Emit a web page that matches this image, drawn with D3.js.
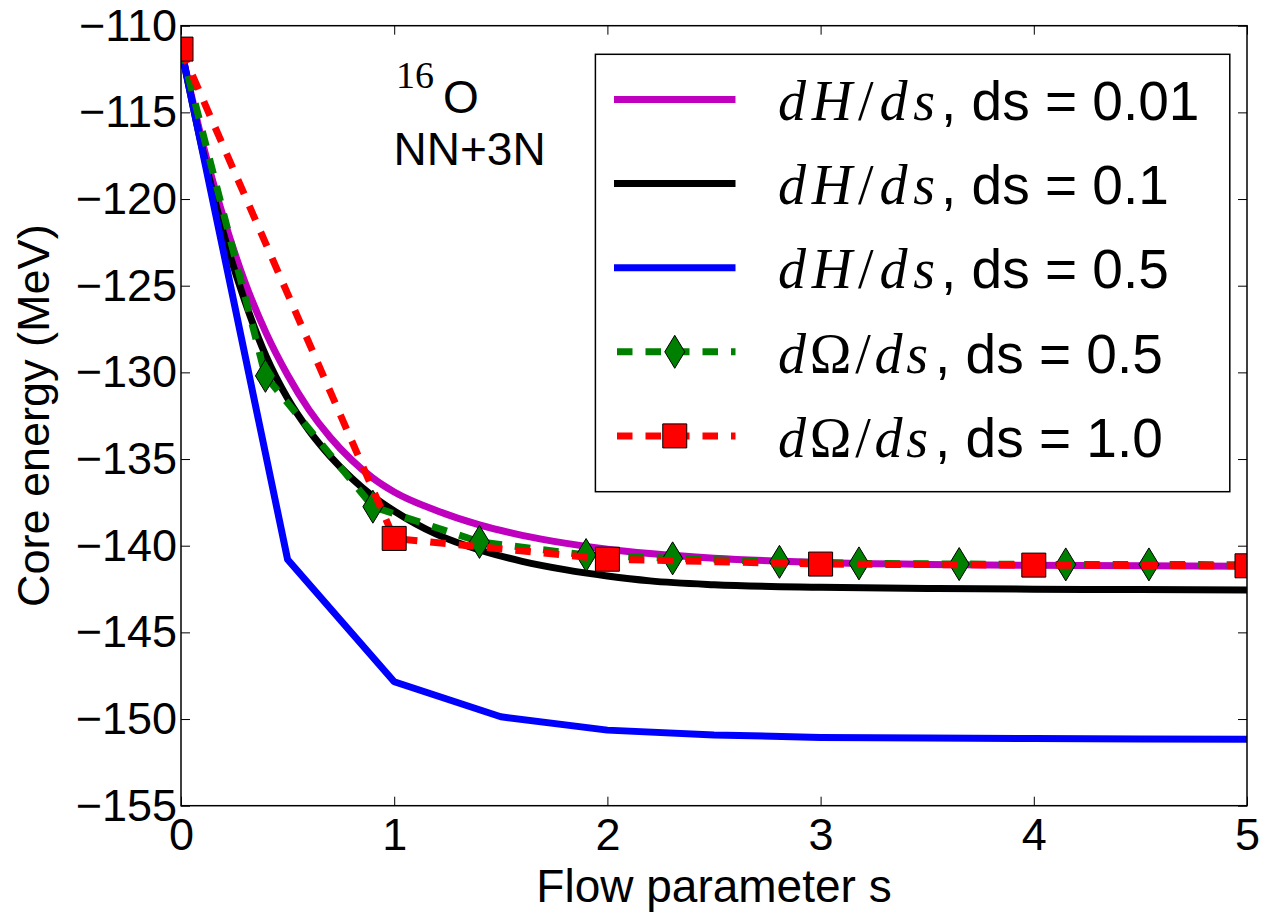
<!DOCTYPE html>
<html>
<head>
<meta charset="utf-8">
<script src="https://cdn.jsdelivr.net/npm/d3@7"></script>
<style>
  body { margin: 0; background: #fff; }
</style>
</head>
<body>
<svg id="chart" width="1262" height="912"></svg>
<script>
// Core energy of 16O (NN+3N) along the IMSRG flow parameter s.

// dH/ds, ds = 0.01 and ds = 0.1 (dense integrations, sampled)
const hS = [0, 0.1, 0.2, 0.3, 0.4, 0.5, 0.6, 0.7, 0.8, 0.9, 1.0, 1.2, 1.4, 1.6, 1.8, 2.0, 2.2, 2.5, 3.0, 3.5, 4.0, 4.5, 5.0];
const hEnergy001 = [-111.3, -116.7, -121.1, -124.8, -127.75, -130.15, -132.15, -133.75, -135.05, -136.1, -136.9, -137.98, -138.8, -139.4, -139.85, -140.2, -140.45, -140.72, -140.97, -141.08, -141.13, -141.16, -141.18];
const hEnergy01 = [-111.3, -117.1, -122.0, -125.9, -129.1, -131.5, -133.35, -134.85, -136.1, -137.15, -138.0, -139.35, -140.25, -140.9, -141.38, -141.75, -142.03, -142.25, -142.4, -142.47, -142.51, -142.53, -142.55];

// dH/ds, ds = 0.5
const hS05 = [0, 0.5, 1.0, 1.5, 2.0, 2.5, 3.0, 3.5, 4.0, 4.5, 5.0];
const hEnergy05 = [-111.3, -140.8, -147.85, -149.87, -150.64, -150.92, -151.06, -151.1, -151.12, -151.15, -151.17];

// dOmega/ds, ds = 0.5 (adaptive output points; markers on the inner points)
const omegaS05 = [0, 0.396, 0.9, 1.4, 1.9, 2.306, 2.807, 3.18, 3.65, 4.15, 4.54, 5.0];
const omegaEnergy05 = [-111.3, -130.2, -137.75, -139.78, -140.54, -140.73, -140.93, -141.02, -141.06, -141.08, -141.08, -141.1];
const omegaMarkers05 = [1, 2, 3, 4, 5, 6, 7, 8, 9, 10];

// dOmega/ds, ds = 1.0
const omegaS10 = [0, 1, 2, 3, 4, 5];
const omegaEnergy10 = [-111.35, -139.58, -140.78, -141.06, -141.12, -141.16];
const omegaMarkers10 = [0, 1, 2, 3, 4, 5];

const xTicks = [0, 1, 2, 3, 4, 5];
const yTicks = [-110, -115, -120, -125, -130, -135, -140, -145, -150, -155];

const legendMath = [["d", "H"], ["d", "H"], ["d", "H"], ["d", "Ω"], ["d", "Ω"]];
const legendSteps = ["0.01", "0.1", "0.5", "0.5", "1.0"];

const sans = '"Liberation Sans", Arial, Helvetica, sans-serif';
const serif = '"Liberation Serif", "Times New Roman", serif';

const W = 1262, H = 912;
const plotLeft = 181, plotRight = 1247, plotTop = 25.7, plotBottom = 805.7;

const x = d3.scaleLinear().domain([0, 5]).range([plotLeft, plotRight]);
const y = d3.scaleLinear().domain([-110, -155]).range([plotTop, plotBottom]);

const svg = d3.select("#chart");
svg.append("rect").attr("width", W).attr("height", H).attr("fill", "#fff");

svg.append("defs").append("clipPath").attr("id", "plotArea")
  .append("rect").attr("x", plotLeft).attr("y", plotTop)
  .attr("width", plotRight - plotLeft).attr("height", plotBottom - plotTop);

const zip = (a, b) => a.map((v, i) => [v, b[i]]);

const series = [
  { pts: zip(hS, hEnergy001), color: "#bf00bf", dash: null, smooth: true },
  { pts: zip(hS, hEnergy01), color: "#000000", dash: null, smooth: true },
  { pts: zip(hS05, hEnergy05), color: "#0000ff", dash: null, smooth: false },
  { pts: zip(omegaS05, omegaEnergy05), color: "#008000", dash: "15.5,13", smooth: false, marker: "diamond", marks: omegaMarkers05 },
  { pts: zip(omegaS10, omegaEnergy10), color: "#ff0000", dash: "15.5,13", smooth: false, marker: "square", marks: omegaMarkers10 }
];

const diamondPath = "M0,-16.5L10,0L0,16.5L-10,0Z";
const squarePath = "M-12,-12H12V12H-12Z";

const plot = svg.append("g").attr("clip-path", "url(#plotArea)");

series.forEach(sr => {
  const gen = d3.line().x(d => x(d[0])).y(d => y(d[1]));
  if (sr.smooth) gen.curve(d3.curveMonotoneX);
  plot.append("path")
    .attr("d", gen(sr.pts))
    .attr("fill", "none")
    .attr("stroke", sr.color)
    .attr("stroke-width", 7)
    .attr("stroke-linejoin", "round")
    .attr("stroke-dasharray", sr.dash);
  if (sr.marker) {
    plot.selectAll(null)
      .data(sr.marks.map(i => sr.pts[i]))
      .enter().append("path")
      .attr("d", sr.marker === "diamond" ? diamondPath : squarePath)
      .attr("transform", d => `translate(${x(d[0])},${y(d[1])})`)
      .attr("fill", sr.color)
      .attr("stroke", "#000")
      .attr("stroke-width", 1);
  }
});

// Axes: inward ticks on all four sides
function styleAxis(g) {
  g.select(".domain").remove();
  g.selectAll(".tick line").attr("stroke", "#000").attr("stroke-width", 1);
  g.selectAll(".tick text").attr("font-family", sans).attr("font-size", 45).attr("fill", "#000");
}

svg.append("g").attr("transform", `translate(0,${plotBottom})`)
  .call(d3.axisBottom(x).tickValues(xTicks).tickSizeInner(-9).tickSizeOuter(0).tickPadding(12).tickFormat(d3.format("d")))
  .call(styleAxis);
svg.append("g").attr("transform", `translate(0,${plotTop})`)
  .call(d3.axisTop(x).tickValues(xTicks).tickSizeInner(-9).tickSizeOuter(0).tickFormat(""))
  .call(styleAxis);
svg.append("g").attr("transform", `translate(${plotLeft},0)`)
  .call(d3.axisLeft(y).tickValues(yTicks).tickSizeInner(-9).tickSizeOuter(0).tickPadding(4).tickFormat(d3.format("d")))
  .call(styleAxis);
svg.append("g").attr("transform", `translate(${plotRight},0)`)
  .call(d3.axisRight(y).tickValues(yTicks).tickSizeInner(-9).tickSizeOuter(0).tickFormat(""))
  .call(styleAxis);

svg.append("rect")
  .attr("x", plotLeft).attr("y", plotTop)
  .attr("width", plotRight - plotLeft).attr("height", plotBottom - plotTop)
  .attr("fill", "none").attr("stroke", "#000").attr("stroke-width", 1.5);

// Axis titles
svg.append("text")
  .attr("x", (plotLeft + plotRight) / 2).attr("y", 901.5)
  .attr("text-anchor", "middle")
  .attr("font-family", sans).attr("font-size", 46)
  .text("Flow parameter s");

svg.append("text")
  .attr("transform", `translate(48.5,${(plotTop + plotBottom) / 2}) rotate(-90)`)
  .attr("text-anchor", "middle")
  .attr("font-family", sans).attr("font-size", 45)
  .text("Core energy (MeV)");

// Nucleus annotation
const nucleus = svg.append("g");
nucleus.append("text").attr("x", 396).attr("y", 88.3)
  .attr("font-family", serif).attr("font-size", 38).text("16");
nucleus.append("text").attr("x", 443).attr("y", 113.3)
  .attr("font-family", sans).attr("font-size", 46).text("O");
nucleus.append("text").attr("x", 393.5).attr("y", 165)
  .attr("font-family", sans).attr("font-size", 46).text("NN+3N");

// Legend
const legend = svg.append("g");
legend.append("rect")
  .attr("x", 595.4).attr("y", 54.3)
  .attr("width", 634.4).attr("height", 437.4)
  .attr("fill", "#fff").attr("stroke", "#000").attr("stroke-width", 1.5);

series.forEach((sr, i) => {
  const ry = 99.5 + i * 84.1;
  legend.append("line")
    .attr("x1", 614).attr("x2", 735.5).attr("y1", ry).attr("y2", ry)
    .attr("stroke", sr.color).attr("stroke-width", 7)
    .attr("stroke-dasharray", sr.dash ? "15.5,13" : null)
    .attr("stroke-dashoffset", sr.dash ? -3 : null);
  if (sr.marker) {
    legend.append("path")
      .attr("d", sr.marker === "diamond" ? diamondPath : squarePath)
      .attr("transform", `translate(674.75,${ry})`)
      .attr("fill", sr.color).attr("stroke", "#000").attr("stroke-width", 1);
  }
  const [dv, sym] = legendMath[i];
  const greek = sym === "Ω";
  const m = legend.append("text")
    .attr("x", 778).attr("y", ry + 20.7)
    .attr("font-family", serif).attr("font-size", 56)
    .attr("textLength", greek ? 150 : 157).attr("lengthAdjust", "spacing");
  m.append("tspan").attr("font-style", "italic").text(dv);
  m.append("tspan").attr("font-style", greek ? "normal" : "italic").text(sym);
  m.append("tspan").attr("font-style", "normal").text("/");
  m.append("tspan").attr("font-style", "italic").text("ds");
  legend.append("text")
    .attr("x", greek ? 935 : 941).attr("y", ry + 20.7)
    .attr("font-family", sans).attr("font-size", 55)
    .text(`, ds = ${legendSteps[i]}`);
});
</script>
</body>
</html>
